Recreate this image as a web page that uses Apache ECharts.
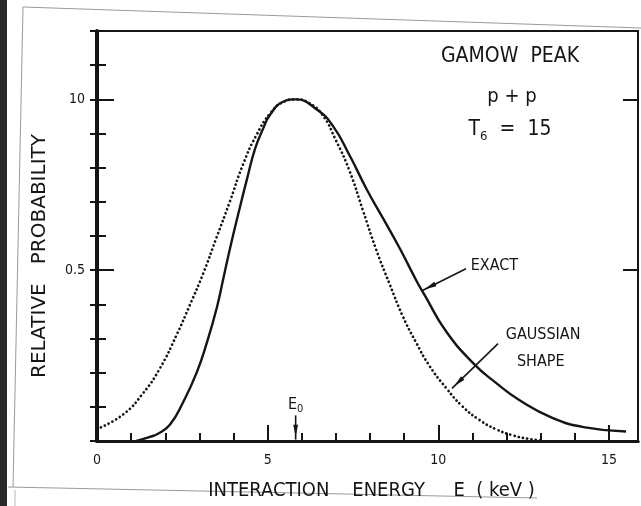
<!DOCTYPE html>
<html>
<head>
<meta charset="utf-8">
<script src="https://cdn.jsdelivr.net/npm/echarts@6/dist/echarts.min.js"></script>
<style>
  html, body { margin: 0; padding: 0; background: #fff; }
  #chart { width: 641px; height: 506px; }
</style>
</head>
<body>
<div id="chart"></div>
<script>
// 曲线数据
const exactE = [1.15, 1.55, 1.8, 2.14, 2.53, 2.92, 3.21, 3.51, 3.7, 3.9, 4.14, 4.39, 4.63, 4.87, 5.07, 5.45, 5.82, 6.44, 6.92, 7.41, 7.9, 8.39, 8.88, 9.37, 9.6, 10.22, 11.05, 11.69, 12.37, 13.34, 14.3, 15.5];
const exactP = [0, 0.012, 0.022, 0.048, 0.115, 0.2, 0.285, 0.39, 0.475, 0.565, 0.665, 0.765, 0.855, 0.915, 0.955, 0.993, 1.0, 0.97, 0.921, 0.834, 0.737, 0.65, 0.562, 0.467, 0.427, 0.322, 0.225, 0.17, 0.12, 0.068, 0.04, 0.028];
const gaussE = [0, 0.77, 1.35, 1.84, 2.33, 2.72, 3.11, 3.5, 3.89, 4.28, 4.67, 5.1, 5.5, 5.82, 6.2, 6.6, 7.0, 7.4, 7.79, 8.18, 8.57, 8.96, 9.35, 9.74, 10.23, 10.7, 11.2, 11.7, 12.2, 12.6, 13.0];
const gaussP = [0.035, 0.078, 0.14, 0.212, 0.31, 0.398, 0.49, 0.595, 0.70, 0.81, 0.895, 0.962, 0.994, 1.0, 0.99, 0.955, 0.88, 0.79, 0.675, 0.56, 0.46, 0.365, 0.288, 0.22, 0.155, 0.102, 0.062, 0.034, 0.016, 0.007, 0.002];
// 坐标轴
const xMax = 15.85;
const yMax = 1.2;
const xTickLabels = { 0: '0', 5: '5', 10: '10', 15: '15' };
const yTickLabels = { 0.5: '0.5', 1: '10' };
const E0 = 5.82;

const FONT = "'DejaVu Sans Condensed', 'DejaVu Sans', sans-serif";
const FONT_WIDE = "'DejaVu Sans', sans-serif";
const INK = '#151515';

const zip = (xs, ys) => xs.map((x, i) => [x, ys[i]]);

const chart = echarts.init(document.getElementById('chart'));

const baseX = {
  type: 'value', min: 0, max: xMax,
  splitLine: { show: false },
  axisLabel: { show: false }
};
const baseY = {
  type: 'value', min: 0, max: yMax,
  splitLine: { show: false },
  axisLabel: { show: false }
};

chart.setOption({
  animation: false,
  backgroundColor: '#fff',
  grid: { left: 97, right: 3, top: 31, bottom: 63, show: true, borderColor: INK, borderWidth: 2 },
  xAxis: [
    Object.assign({}, baseX, {
      position: 'bottom', interval: 1,
      axisLine: { lineStyle: { color: INK, width: 3 } },
      axisTick: { inside: true, length: 8, lineStyle: { color: INK, width: 2 } }
    }),
    Object.assign({}, baseX, {
      position: 'bottom', interval: 5,
      axisLine: { show: false },
      axisTick: { inside: true, length: 16, lineStyle: { color: INK, width: 2 } },
      axisLabel: {
        show: true, margin: 12, color: INK, fontFamily: FONT, fontSize: 14,
        formatter: v => xTickLabels[v] || ''
      },
      name: 'INTERACTION    ENERGY     E  ( keV )', nameLocation: 'middle', nameGap: 40,
      nameTextStyle: { color: INK, fontFamily: FONT, fontSize: 20, padding: [0, 0, 0, 8] }
    }),
    Object.assign({}, baseX, {
      position: 'top',
      axisLine: { lineStyle: { color: INK, width: 3 } },
      axisTick: { show: false }
    })
  ],
  yAxis: [
    Object.assign({}, baseY, {
      position: 'left', interval: 0.1,
      axisLine: { lineStyle: { color: INK, width: 4 } },
      axisTick: { inside: true, length: 9, lineStyle: { color: INK, width: 2 } }
    }),
    Object.assign({}, baseY, {
      position: 'left', interval: 0.5,
      axisLine: { show: false },
      axisTick: { inside: true, length: 17, lineStyle: { color: INK, width: 2 } },
      axisLabel: {
        show: true, margin: 12, color: INK, fontFamily: FONT, fontSize: 14,
        formatter: v => yTickLabels[v] || ''
      }
    }),
    Object.assign({}, baseY, {
      position: 'right', interval: 0.1,
      axisLine: { lineStyle: { color: INK, width: 2 } },
      axisTick: { inside: true, length: 7, lineStyle: { color: INK, width: 2 } }
    }),
    Object.assign({}, baseY, {
      position: 'right', interval: 0.5,
      axisLine: { show: false },
      axisTick: { inside: true, length: 15, lineStyle: { color: INK, width: 2 } }
    })
  ],
  series: [
    {
      name: 'EXACT', type: 'line', data: zip(exactE, exactP),
      smooth: 0.5, showSymbol: false, symbol: 'none',
      lineStyle: { color: INK, width: 2.4 }
    },
    {
      name: 'GAUSSIAN SHAPE', type: 'line', data: zip(gaussE, gaussP),
      smooth: 0.5, showSymbol: false, symbol: 'none',
      lineStyle: { color: INK, width: 2.7, type: [0.1, 4.2], cap: 'round' }
    }
  ]
});

// 注释（数据坐标 -> 像素）
const px = (x, y) => chart.convertToPixel({ gridIndex: 0 }, [x, y]);

function arrow(from, to) {
  const a = px(from[0], from[1]);
  const b = px(to[0], to[1]);
  const dx = b[0] - a[0], dy = b[1] - a[1];
  const len = Math.sqrt(dx * dx + dy * dy);
  const ux = dx / len, uy = dy / len;
  const tip = [b[0] - ux * 3, b[1] - uy * 3];
  const back = [tip[0] - ux * 12, tip[1] - uy * 12];
  const w = 2.4;
  return [
    { type: 'line', shape: { x1: a[0], y1: a[1], x2: b[0], y2: b[1] }, style: { stroke: INK, lineWidth: 1.6 } },
    {
      type: 'polygon',
      shape: { points: [tip, [back[0] - uy * w, back[1] + ux * w], [back[0] + uy * w, back[1] - ux * w]] },
      style: { fill: INK }
    }
  ];
}

function label(x, y, text, size, align) {
  const p = px(x, y);
  return {
    type: 'text', x: p[0], y: p[1],
    style: { text: text, fill: INK, font: size + 'px ' + FONT, align: align || 'center', verticalAlign: 'middle' }
  };
}

const tP = px(12.1, 0.912);
const e0P = px(E0, 0.105);

chart.setOption({
  graphic: [
    // 扫描页边
    { type: 'rect', shape: { x: 0, y: 0, width: 7, height: 506 }, style: { fill: '#2a2a2a' } },
    { type: 'line', shape: { x1: 23, y1: 7, x2: 641, y2: 28 }, style: { stroke: '#9a9a9a', lineWidth: 1 } },
    { type: 'line', shape: { x1: 23, y1: 7, x2: 13, y2: 487 }, style: { stroke: '#9a9a9a', lineWidth: 1 } },
    { type: 'line', shape: { x1: 8, y1: 487, x2: 537, y2: 498 }, style: { stroke: '#9a9a9a', lineWidth: 1 } },
    { type: 'line', shape: { x1: 15, y1: 490, x2: 15, y2: 506 }, style: { stroke: '#bbbbbb', lineWidth: 1 } },
    // 纵轴名称
    {
      type: 'text', x: 40, y: 256, rotation: Math.PI / 2,
      style: { text: 'RELATIVE   PROBABILITY', fill: INK, font: '20px ' + FONT_WIDE, align: 'center', verticalAlign: 'middle' }
    },
    label(12.1, 1.124, 'GAMOW  PEAK', 21),
    label(12.16, 1.008, 'p + p', 20),
    {
      type: 'text', x: tP[0], y: tP[1],
      style: {
        text: '{t|T}{s|6}{t|  =  15}', align: 'center', verticalAlign: 'middle',
        rich: {
          t: { fill: INK, fontFamily: FONT, fontSize: 21 },
          s: { fill: INK, fontFamily: FONT, fontSize: 13, padding: [14, 0, 0, 0] }
        }
      }
    },
    label(10.95, 0.513, 'EXACT', 16, 'left'),
    label(13.07, 0.312, 'GAUSSIAN', 16),
    label(13.0, 0.233, 'SHAPE', 16),
    {
      type: 'text', x: e0P[0], y: e0P[1],
      style: {
        text: '{e|E}{s|0}', align: 'center', verticalAlign: 'middle',
        rich: {
          e: { fill: INK, fontFamily: FONT, fontSize: 16 },
          s: { fill: INK, fontFamily: FONT, fontSize: 11, padding: [9, 0, 0, 0] }
        }
      }
    }
  ]
    .concat(arrow([10.81, 0.504], [9.52, 0.44]))
    .concat(arrow([11.75, 0.285], [10.4, 0.154]))
    .concat(arrow([E0, 0.075], [E0, 0.004]))
});
</script>
</body>
</html>
